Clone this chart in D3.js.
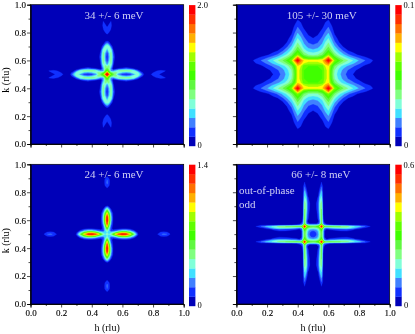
<!DOCTYPE html>
<html><head><meta charset="utf-8">
<script src="https://cdn.jsdelivr.net/npm/d3@7/dist/d3.min.js"></script>
<style>html,body{margin:0;padding:0;background:#fff}svg{display:block;filter:blur(0.35px)}text{font-family:"Liberation Serif","Times New Roman",serif}</style>
</head><body><div id="c"></div>
<script>
// Colour bands, bottom to top of every colour bar
const bandColors=["#0000b8","#1030ff","#4080ff","#40e0ff","#80ffd8","#80ff80","#60f840","#40ff00","#60ff00","#a0ff00","#ffff00","#ffb000","#ff7000","#ff3000","#ff0000"];
const tickMajor=[0,0.2,0.4,0.6,0.8,1];
const tickMinor=[0.1,0.3,0.5,0.7,0.9];

// Each map: distance from (0.5,0.5) along each axis, and intensity in colour-bar steps,
// read from the picture for one octant (row u, columns v<=u; the map has mirror symmetry).
const offsetsA=[0,.012,.025,.04,.055,.075,.1,.125,.15,.175,.2,.22,.24,.27,.29,.32,.35,.38,.4,.5];
const stepsA=[
[15.5],
[13,8],
[8.5,6.5,2.5],
[6.5,5.5,2.5,.5],
[5,5.5,3.5,.8,.1],
[2.4,4.5,5,1.2,.1],
[1.4,3,5.6,1.6,.2],
[1.2,2.5,5.4,2.2,.3],
[1.4,3,5.4,1.6,.2],
[2.6,5,4.5,1,.1],
[5,4.5,2,.3],
[3,2,.6],
[.9,.5,.1],
[0],
[1.1,.7,.1],
[1.7,1.6,.9,.1],
[.6,1.3,1.3,.2],
[.1,.3,1.05,.2],
[0],
[0]];
const offsetsB=[0,.03,.06,.08,.1,.12,.14,.17,.2,.23,.26,.3,.34,.38,.4,.44,.5];
const stepsB=[
[7.5],
[7.5,7.5],
[8,8,8.3],
[9.5,9.5,10,11.5],
[10.5,10.5,10.8,12.5,15],
[6.8,7,8,10,12.5,9.5],
[4.7,5,6,7.5,9,7.5,5.8],
[3.3,3.6,4.5,6,7.2,5.8,4.3,3],
[2.3,2.6,3.5,4.8,5.9,4.6,3.2,1.8,.8],
[1.6,1.9,2.8,4,4.9,3.6,2.2,1,.4,.2],
[1,1.3,2.2,3.2,4,2.8,1.5,.6,.2,.1],
[.5,.7,1.4,2.2,2.9,1.9,.8,.3],
[.2,.3,.8,1.4,2,1.2,.4,.1],
[0,.1,.4,.9,1.2,.6,.1],
[0,0,.2,.6,.8,.4],
[0,0,0,.1,.2,.1],
[0]];
const offsetsC=[0,.012,.025,.04,.055,.075,.1,.125,.15,.175,.2,.22,.3,.325,.35,.37,.39,.41,.43,.5];
const stepsC=[
[4],
[4,3.2],
[5,3.6,1.4],
[7.5,4.2,1.4,.5],
[11,5.5,1.8,.5,.1],
[13.5,8,2.6,.6,.1],
[14.5,10,3.4,.7,.1],
[14,9.5,3.4,.7,.1],
[11,7,2.6,.6],
[6,3.6,1.2,.2],
[1.2,.7,.1],
[.2,.1],
[0],
[.8,.3],
[1.9,1.2,.2],
[2.2,1.4,.2],
[2,1.3,.2],
[1.1,.5],
[0],
[0]];
const offsetsD=[0,.02,.035,.045,.055,.065,.075,.09,.11,.14,.18,.22,.26,.3,.34,.38,.4,.5];
const stepsD=[
[1.2],
[1.7,2.2],
[3,3.3,4.5],
[5,5.3,6.2,7],
[6.5,7,8,11,15],
[3.5,3.5,4.5,7,11,5],
[.9,.9,1.4,3,7,2.5,1.5],
[.4,.5,.9,2.5,6.5,2,.5,.3],
[.3,.5,1.2,3.2,6.5,1.3,.2,.1],
[.3,.6,1.4,3.8,6.2,1,.1],
[.4,.8,1.7,4.5,6,.9,.1],
[.4,.9,1.8,4.5,5.5,.8],
[.2,.6,1.2,3.6,4.2,.7],
[0,.2,.6,2,3.4,.6],
[0,0,.1,.8,2,.8],
[0,0,0,.1,.8,1],
[0],
[0]];

const titles=["34 +/- 6 meV","105 +/- 30 meV","24 +/- 6 meV","66 +/- 8 meV"];
const barTop=["2.0","0.1","1.4","0.6"];
const allOffsets=[offsetsA,offsetsB,offsetsC,offsetsD];
const allSteps=[stepsA,stepsB,stepsC,stepsD];

const W=415,H=334;
const svg=d3.select("#c").append("svg").attr("width",W).attr("height",H);
const boxes=[
 {l:30.5,r:183.7,t:4.7,b:144,bl:189,tx:114,ly:80},
 {l:236.4,r:389.7,t:4.7,b:144,bl:395.3,tx:321.7},
 {l:30.5,r:183.7,t:164.3,b:304,bl:189,tx:114,ly:240.7,xl:true},
 {l:236.4,r:389.7,t:164.3,b:304,bl:395.3,tx:320.8,xl:true}];
const thresholds=d3.range(1,15);

boxes.forEach((b,p)=>{
  const g=svg.append("g");
  const x=d3.scaleLinear([0,1],[b.l,b.r]);
  const y=d3.scaleLinear([0,1],[b.b,b.t]);
  const off=allOffsets[p], st=allSteps[p], n=off.length;
  const at=(i,j)=>{const a=Math.max(i,j),c=Math.min(i,j);return st[a][c]??0;};
  const coords=[...off.slice(1).reverse().map(u=>.5-u),...off.map(u=>.5+u)];
  const m=coords.length;
  const idx=i=>Math.abs(i-(n-1));
  const values=[];
  for(let r=0;r<m;r++)for(let c=0;c<m;c++)values.push(at(idx(c),idx(r)));
  const toH=d3.scaleLinear(coords.map((_,i)=>i+.5),coords).clamp(true);
  const proj=d3.geoTransform({point(px,py){this.stream.point(x(toH(px)),y(toH(py)));}});
  const path=d3.geoPath(proj);
  const id="clip"+p;
  svg.append("clipPath").attr("id",id).append("rect").attr("x",b.l).attr("y",b.t).attr("width",b.r-b.l).attr("height",b.b-b.t);
  g.append("rect").attr("x",b.l).attr("y",b.t).attr("width",b.r-b.l).attr("height",b.b-b.t).attr("fill",bandColors[0]);
  const conts=d3.contours().size([m,m]).smooth(true).thresholds(thresholds)(values);
  g.append("g").attr("clip-path",`url(#${id})`).selectAll("path").data(conts).join("path")
    .attr("d",path).attr("fill",d=>bandColors[d.value]).attr("stroke",d=>bandColors[d.value]).attr("stroke-width",.3);

  // axes
  const axes=g.append("g").attr("font-size",9);
  const xa=axes.append("g").attr("transform",`translate(0,${b.b})`);
  xa.call(d3.axisBottom(x).tickValues(tickMinor).tickSize(2).tickFormat(""));
  const xb=axes.append("g").attr("transform",`translate(0,${b.b})`);
  xb.call(d3.axisBottom(x).tickValues(tickMajor).tickSize(3.5).tickPadding(2).tickFormat(b.xl?d3.format(".1f"):""));
  const ya=axes.append("g").attr("transform",`translate(${b.l},0)`);
  ya.call(d3.axisLeft(y).tickValues(tickMinor).tickSize(2).tickFormat(""));
  const yb=axes.append("g").attr("transform",`translate(${b.l},0)`);
  yb.call(d3.axisLeft(y).tickValues(tickMajor).tickSize(3.5).tickPadding(1).tickFormat(b.ly?d3.format(".1f"):""));
  axes.selectAll(".domain").attr("stroke","#000").attr("stroke-width",.8);
  axes.selectAll("line").attr("stroke","#000").attr("stroke-width",.7);
  axes.selectAll("text").attr("font-family",'"Liberation Serif",serif').attr("font-size",9).attr("fill","#000").attr("stroke","#000").attr("stroke-width",.12);
  g.append("rect").attr("x",b.l).attr("y",b.t).attr("width",b.r-b.l).attr("height",b.b-b.t).attr("fill","none").attr("stroke","#000").attr("stroke-width",.7);

  // labels
  g.append("text").attr("x",b.tx).attr("y",b.t+14).attr("text-anchor","middle").attr("font-size",11).attr("fill","#d0d0f4").text(titles[p]);
  if(b.xl) g.append("text").attr("x",(b.l+b.r)/2).attr("y",331).attr("text-anchor","middle").attr("font-size",10).attr("fill","#000").text("h (rlu)");
  if(b.ly) g.append("text").attr("transform",`translate(8.5,${b.ly}) rotate(-90)`).attr("text-anchor","middle").attr("font-size",10).attr("fill","#000").text("k (rlu)");

  // colour bar
  const bt=b.t+.4, bb=b.b+2;
  const by=d3.scaleLinear([0,15],[bb,bt]);
  g.append("g").selectAll("rect").data(bandColors).join("rect")
    .attr("x",b.bl).attr("width",6.4).attr("y",(d,i)=>by(i+1)).attr("height",(d,i)=>by(i)-by(i+1)+.2).attr("fill",d=>d);
  g.append("text").attr("x",b.bl+8.3).attr("y",bt+3).attr("font-size",8.5).attr("fill","#000").text(barTop[p]);
  g.append("text").attr("x",b.bl+8.6).attr("y",bb+2).attr("font-size",8.5).attr("fill","#000").text("0");
});
const notes=svg.append("g").attr("font-size",11).attr("fill","#d0d0f4");
notes.append("text").attr("x",239).attr("y",193.5).text("out-of-phase");
notes.append("text").attr("x",239).attr("y",207.5).text("odd");
</script></body></html>
